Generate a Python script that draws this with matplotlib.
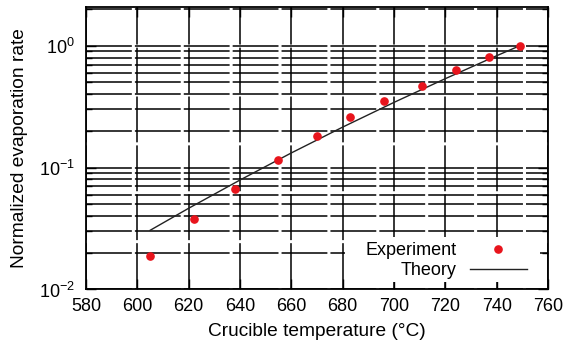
import matplotlib
matplotlib.use("Agg")
import matplotlib.pyplot as plt
from matplotlib.ticker import LogLocator, FixedLocator
from matplotlib.patches import Rectangle

plt.rcParams['font.family'] = ['Liberation Sans', 'DejaVu Sans']
plt.rcParams['mathtext.fontset'] = 'custom'
plt.rcParams['mathtext.rm'] = 'Liberation Sans'
plt.rcParams['mathtext.it'] = 'Liberation Sans:italic'
plt.rcParams['mathtext.bf'] = 'Liberation Sans:bold'

# Experiment data
exp_temp = [605, 622, 638, 655, 670, 683, 696, 711, 724, 737, 749]
exp_rate = [0.019, 0.038, 0.067, 0.116, 0.183, 0.262, 0.354, 0.47, 0.636, 0.81, 1.0]

# Theory curve
theory_temp = [605, 620, 640, 660, 680, 700, 720, 740, 749]
theory_rate = [0.0306, 0.0464, 0.0791, 0.132, 0.215, 0.343, 0.537, 0.828, 1.0]

x_ticks = [580, 600, 620, 640, 660, 680, 700, 720, 740, 760]

FS = 13
LFS = 13.8

fig = plt.figure(figsize=(5.68, 3.49), dpi=100)
ax = fig.add_axes([0.1514, 0.1705, 0.8134, 0.8095])

ax.set_yscale('log')
ax.set_xlim(580, 760)
ax.set_ylim(0.01, 2.08)

ax.xaxis.set_major_locator(FixedLocator(x_ticks))
ax.yaxis.set_major_locator(LogLocator(base=10, numticks=10))
ax.yaxis.set_minor_locator(LogLocator(base=10, subs=range(2, 10), numticks=20))

gls = (0, (30, 2))
ax.grid(True, which='major', axis='x', color='black', lw=1.1, linestyle=gls)
ax.grid(True, which='both', axis='y', color='black', lw=1.1, linestyle=gls)
ax.set_axisbelow(True)

# white background behind the key (leaves the bottom ticks visible)
ax.add_patch(Rectangle((0.561, 0.027), 0.422, 0.159, transform=ax.transAxes,
                       facecolor='white', edgecolor='none', zorder=1))

ax.plot(theory_temp, theory_rate, color='#222222', lw=1.0, label='Theory', zorder=3)
ax.plot(exp_temp, exp_rate, 'o', color='#e8141c', markersize=5.2, label='Experiment', zorder=4)

ax.tick_params(which='both', direction='in', top=True, right=True, labelsize=FS, colors='black')
ax.tick_params(which='major', length=7, width=1, pad=6)
ax.tick_params(which='minor', length=4, width=1)
ax.tick_params(axis='y', which='major', pad=8)
for s in ax.spines.values():
    s.set_linewidth(1.3)

ax.set_xlabel('Crucible temperature (°C)', fontsize=LFS, labelpad=6)
ax.set_ylabel('Normalized evaporation rate', fontsize=LFS, labelpad=8)

handles, labels = ax.get_legend_handles_labels()
leg = ax.legend([handles[1], handles[0]], [labels[1], labels[0]],
                loc='lower right', bbox_to_anchor=(0.965, 0.02),
                markerfirst=False, frameon=False,
                fontsize=FS, handlelength=3.2, labelspacing=0.16,
                borderpad=0.25, borderaxespad=0, handletextpad=0.7)
for t in leg.get_texts():
    t.set_ha('right')
leg._legend_box.align = 'right'

fig.savefig('out.png', dpi=100)
